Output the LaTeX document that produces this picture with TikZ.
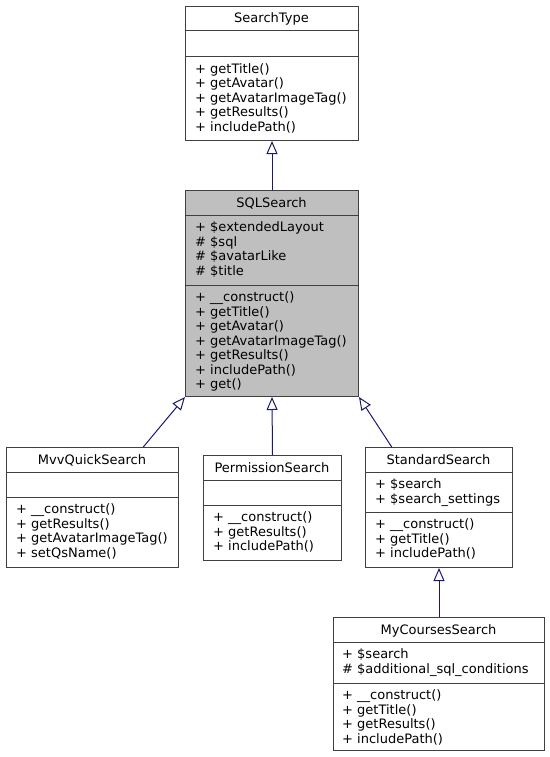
\documentclass[tikz,border=0pt]{standalone}
\usepackage{fontspec}
\setmainfont{DejaVu Sans}
\usetikzlibrary{arrows.meta}
\definecolor{edgeblue}{HTML}{191970}
\definecolor{basegray}{HTML}{BFBFBF}
\begin{document}
\begin{tikzpicture}[x=1pt, y=-1pt,
	classbox/.style={draw=black!75, line width=1pt, fill=white, inner sep=0, anchor=north west},
	sep/.style={draw=black!75, line width=1pt},
	title/.style={anchor=base, inner sep=0, font=\fontsize{13pt}{14.5pt}\selectfont},
	members/.style={anchor=base west, align=left, inner sep=0, font=\fontsize{13pt}{14.5pt}\selectfont},
	inherit/.style={draw=edgeblue, line width=1pt, -{Triangle[open, length=13pt, width=11pt]}}]
	\useasboundingbox (0,0) rectangle (549,757);

	% SearchType
	\node[classbox, minimum width=173, minimum height=134] (searchtype) at (185,6) {};
	\draw[sep] (185,31) -- (358,31);
	\draw[sep] (185,57) -- (358,57);
	\node[title] (searchtype-name) at (271.5,23) {SearchType};
	\node[members] (searchtype-ops) at (195,131.5) {+ getTitle()\\+ getAvatar()\\+ getAvatarImageTag()\\+ getResults()\\+ includePath()};

	% SQLSearch
	\node[classbox, fill=basegray, minimum width=173, minimum height=206] (sqlsearch) at (185,190) {};
	\draw[sep] (185,215) -- (358,215);
	\draw[sep] (185,285) -- (358,285);
	\node[title] (sqlsearch-name) at (271.5,207) {SQLSearch};
	\node[members] (sqlsearch-attrs) at (195,275) {+ \$extendedLayout\\\# \$sql\\\# \$avatarLike\\\# \$title};
	\node[members] (sqlsearch-ops) at (195,388.5) {+ \_\_construct()\\+ getTitle()\\+ getAvatar()\\+ getAvatarImageTag()\\+ getResults()\\+ includePath()\\+ get()};

	% MvvQuickSearch
	\node[classbox, minimum width=172, minimum height=120] (mvvquick) at (6,447) {};
	\draw[sep] (6,472) -- (178,472);
	\draw[sep] (6,497) -- (178,497);
	\node[title] (mvvquick-name) at (92,464) {MvvQuickSearch};
	\node[members] (mvvquick-ops) at (16,557) {+ \_\_construct()\\+ getResults()\\+ getAvatarImageTag()\\+ setQsName()};

	% PermissionSearch
	\node[classbox, minimum width=138, minimum height=105] (permission) at (203,455) {};
	\draw[sep] (203,480) -- (341,480);
	\draw[sep] (203,505) -- (341,505);
	\node[title] (permission-name) at (272,472) {PermissionSearch};
	\node[members] (permission-ops) at (213,550.5) {+ \_\_construct()\\+ getResults()\\+ includePath()};

	% StandardSearch
	\node[classbox, minimum width=147, minimum height=120] (standard) at (365,447) {};
	\draw[sep] (365,472) -- (512,472);
	\draw[sep] (365,512) -- (512,512);
	\node[title] (standard-name) at (438.5,464) {StandardSearch};
	\node[members] (standard-attrs) at (375,503) {+ \$search\\+ \$search\_settings};
	\node[members] (standard-ops) at (375,557.5) {+ \_\_construct()\\+ getTitle()\\+ includePath()};

	% MyCoursesSearch
	\node[classbox, minimum width=211, minimum height=133] (mycourses) at (333,617) {};
	\draw[sep] (333,642) -- (544,642);
	\draw[sep] (333,683) -- (544,683);
	\node[title] (mycourses-name) at (438.5,634) {MyCoursesSearch};
	\node[members] (mycourses-attrs) at (342,673) {+ \$search\\\# \$additional\_sql\_conditions};
	\node[members] (mycourses-ops) at (342,743) {+ \_\_construct()\\+ getTitle()\\+ getResults()\\+ includePath()};

	% inheritance
	\draw[inherit] (sqlsearch.north) -- (searchtype.south);
	\draw[inherit] (mvvquick.50.8) -- (sqlsearch.south west);
	\draw[inherit] (permission.north) -- (sqlsearch.south);
	\draw[inherit] (standard.128.4) -- (sqlsearch.south east);
	\draw[inherit] (mycourses.north) -- (standard.south);
\end{tikzpicture}
\end{document}
